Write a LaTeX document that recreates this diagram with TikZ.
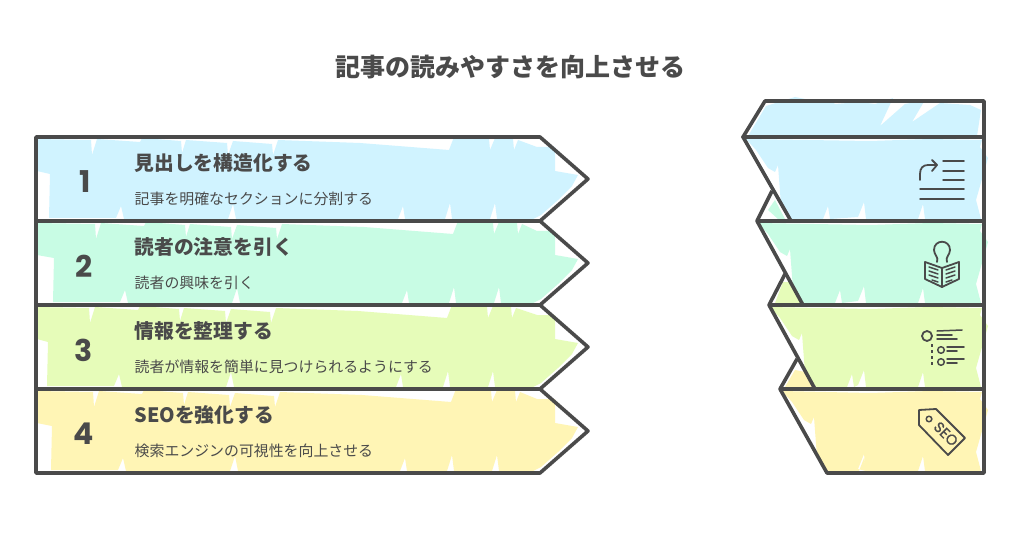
\documentclass[tikz,border=0pt]{standalone}
\usepackage{fontspec}
\setmainfont{Noto Sans CJK JP}
\newfontfamily\numfont{Poppins}
\newfontfamily\tagfont[FakeBold=1.2]{Poppins}
\colorlet{colorLine}{black!71}
\colorlet{colorText}{black!71}
\definecolor{colorBlue}{HTML}{D0F3FF}
\definecolor{colorGreen}{HTML}{C8FCE4}
\definecolor{colorLime}{HTML}{E6FCB9}
\definecolor{colorYellow}{HTML}{FFF5B5}
\newcommand{\fsize}[1]{\fontsize{#1}{#1}\selectfont}
% colour, y offset, x offset
\newcommand{\rowfill}[3]{\fill[#1, shift={(0,#2)}] (37,139) -- (91+#3,140) -- (92+#3,155) -- (97+#3,139) -- (140+#3,142) -- (142+#3,138) -- (181+#3,141) -- (182+#3,153) -- (186+#3,140) -- (227+#3,143) -- (228+#3,155) -- (233+#3,141) -- (272+#3,144) -- (273+#3,155) -- (278+#3,140) -- (360+#3,143) -- (449+#3,150) -- (454+#3,137) -- (489+#3,139) -- (490+#3,150) -- (495+#3,138) -- (513+#3,139) -- (514+#3,150) -- (518+#3,140) -- (537,147) -- (555,147) -- (555,171) -- (578,175) -- (572,186) -- (558,200) -- (541,215) -- (533,219) -- (497+#3,219) -- (495+#3,203) -- (490+#3,219) -- (452+#3,219) -- (450+#3,203) -- (445+#3,219) -- (405+#3,219) -- (403+#3,206) -- (398+#3,219) -- (236+#3,219) -- (233+#3,204) -- (228+#3,219) -- (124+#3,219) -- (121+#3,206) -- (116+#3,218) -- (49+#3,218) -- (50+#3,174) -- (37,171) -- cycle;}
% colour, y offset, x offset of the slanted side
\newcommand{\panefill}[3]{\fill[#1, shift={(0,#2)}] (746+#3,139) -- (870,141) -- (930,139) -- (982,140) -- (980,147) -- (988,158) -- (976,200) -- (981,219) -- (925,219) -- (923,204) -- (918,219) -- (866,219) -- (864,202) -- (858,217) -- (830+#3,219) -- (828+#3,206) -- (823+#3,219) -- (791+#3,219) -- (781+#3,205) -- (778+#3,165) -- (775+#3,172) -- (768+#3,168) -- (756+#3,150) -- cycle;}
\tikzset{
  outline/.style={draw=colorLine, line width=3.6pt, line join=round},
  icon/.style={draw=colorLine, line width=1.5pt, line cap=round, line join=round},
  title/.style={text=colorText, font=\fsize{25}\bfseries},
  number/.style={text=colorText, font=\numfont\fsize{30}\bfseries},
  heading/.style={anchor=west, text=colorText, inner sep=0pt, font=\fsize{19.8}\bfseries},
  subtext/.style={anchor=west, text=colorText, inner sep=0pt, font=\fsize{14.9}},
}

\begin{document}
\begin{tikzpicture}[x=1pt, y=-1pt]
\useasboundingbox (0,0) rectangle (1020,540);
\fill[white] (0,0) rectangle (1020,540);
\node[title] (chartTitle) at (510,67.5) {記事の読みやすさを向上させる};
% left arrows
\rowfill{colorBlue}{0}{0}
\rowfill{colorGreen}{84}{4}
\rowfill{colorLime}{168}{-2}
\rowfill{colorYellow}{252}{2}
\draw[outline] (36,137) -- (540,137) -- (588,179) -- (540,221) -- (36,221) -- cycle;
\draw[outline] (36,221) -- (540,221) -- (588,263) -- (540,305) -- (36,305) -- cycle;
\draw[outline] (36,305) -- (540,305) -- (588,347) -- (540,389) -- (36,389) -- cycle;
\draw[outline] (36,389) -- (540,389) -- (588,431) -- (540,473) -- (36,473) -- cycle;
\node[number] (num1) at (85,182) {1};
\node[number] (num2) at (84,266) {2};
\node[number] (num3) at (84,350) {3};
\node[number] (num4) at (84,434) {4};
\node[heading] (head1) at (134.3,163) {見出しを構造化する};
\node[subtext] (sub1) at (134.5,198.5) {記事を明確なセクションに分割する};
\node[heading] (head2) at (134.3,247) {読者の注意を引く};
\node[subtext] (sub2) at (134.5,282.5) {読者の興味を引く};
\node[heading] (head3) at (134.3,331) {情報を整理する};
\node[subtext] (sub3) at (134.5,366.5) {読者が情報を簡単に見つけられるようにする};
\node[heading] (head4) at (134.3,415) {SEOを強化する};
\node[subtext] (sub4) at (134.5,450.5) {検索エンジンの可視性を向上させる};
% right stack
\fill[colorBlue] (748,136) -- (766,106) -- (795,97) -- (815,101) -- (830,100) -- (835,104) -- (860,102) -- (875,104) -- (893,98) -- (880,126) -- (905,104) -- (925,100) -- (912,122) -- (940,103) -- (970,105) -- (981,110) -- (977,136) -- cycle;
\panefill{colorBlue}{0}{0}
\panefill{colorGreen}{84}{12}
\panefill{colorLime}{168}{24}
\panefill{colorYellow}{252}{36}
\fill[colorGreen] (768,210) -- (778,219) -- (785,219) -- (775,200) -- cycle;
\fill[colorLime] (775,303) -- (783,282) -- (790,282) -- (802,303) -- cycle;
\fill[colorYellow] (785,387) -- (795,370) -- (805,372) -- (813,387) -- cycle;
\draw[outline] (743,137) -- (765,101) -- (984,101) -- (984,137) -- cycle;
\draw[outline] (743,137) -- (984,137) -- (984,221) -- (791,221) -- cycle;
\draw[outline] (772,191) -- (757,221) -- (984,221) -- (984,305) -- (803,305) -- (757,221);
\draw[outline] (785,274) -- (769,305) -- (984,305) -- (984,389) -- (815,389) -- (769,305);
\draw[outline] (797,359) -- (780,389) -- (984,389) -- (984,473) -- (827,473) -- (780,389);
% list icon
\draw[icon, line width=1.8pt] (920,180) -- (920,174) .. controls (920,168) and (923,165) .. (928,165) -- (937,165);
\draw[icon, line width=1.8pt] (932,160) -- (937,165) -- (932,171);
\draw[icon] (943,161) -- (964,161);
\draw[icon] (943,171) -- (964,171);
\draw[icon] (943,180) -- (964,180);
\draw[icon] (920,189) -- (964,189);
\draw[icon] (920,199) -- (964,199);
% reader icon
\draw[icon, line width=1.8pt] (937,262) .. controls (939,257) and (934,255) .. (934,250) .. controls (934,239) and (950,239) .. (950,250) .. controls (950,255) and (945,257) .. (947,262);
\draw[icon, line width=1.8pt] (925,262) -- (942,268) -- (959,262) -- (959,279) -- (942,287) -- (925,279) -- cycle;
\draw[icon, line width=1.8pt] (942,268) -- (942,287);
\draw[icon] (929,267) -- (938,270);
\draw[icon] (929,271) -- (938,274);
\draw[icon] (929,275) -- (938,278);
\draw[icon] (932,280) -- (938,282);
\draw[icon] (946,270) -- (955,267);
\draw[icon] (946,274) -- (955,271);
\draw[icon] (946,278) -- (955,275);
\draw[icon] (946,282) -- (952,280);
% outline icon
\draw[icon, line width=1.8pt] (927,336) circle [radius=5];
\draw[icon] (941,350) circle [radius=3.3];
\draw[icon] (941,362) circle [radius=3.3];
\draw[icon] (937,331) -- (962,330);
\draw[icon] (937,335) -- (952,335);
\draw[icon] (937,339) -- (957,339);
\draw[icon, dash pattern=on 3pt off 3pt, line cap=butt] (932,344) -- (932,366);
\draw[icon] (947,347) -- (964,347);
\draw[icon] (947,351) -- (957,351);
\draw[icon] (947,359) -- (964,359);
\draw[icon] (947,363) -- (957,363);
% tag icon
\draw[icon, line width=1.8pt] (919,410) -- (936,409) -- (965,438) -- (948,455) -- (919,425) -- cycle;
\draw[icon] (929,419) circle [radius=2.8];
\node[rotate=-45, text=colorLine, inner sep=0pt, font=\tagfont\fsize{14.5}] (tagText) at (946,434) {SEO};
\end{tikzpicture}
\end{document}
